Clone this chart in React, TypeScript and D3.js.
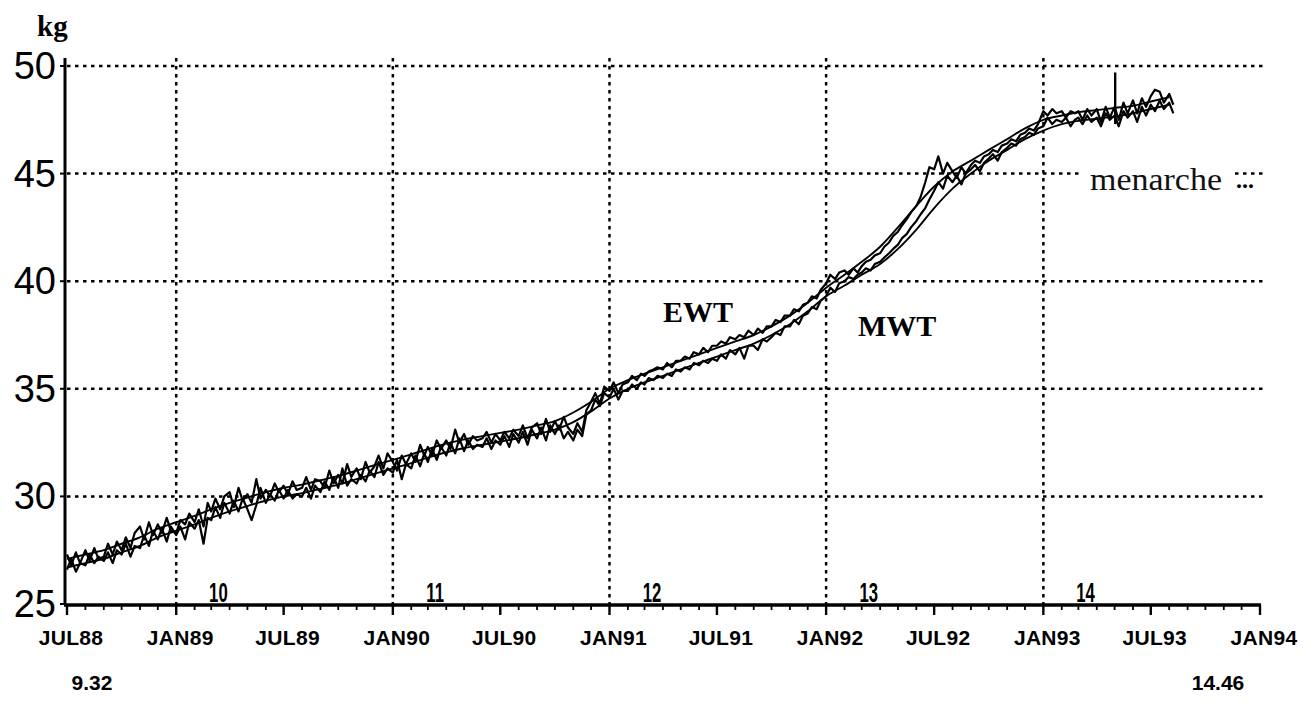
import React from "react";
import * as d3 from "d3";

// ---- data ----
const startAge = 9.32;
const endAgeLabel = "14.46";
const ageMarks = [10, 11, 12, 13, 14];
const yTicks = [25, 30, 35, 40, 45, 50];
const menarcheKg = [47.3, 49.7];
const menarcheDate = Date.UTC(1993, 4, 2);

// fitted curves, one value per month starting JUL88
const ewtFit = [
  27.1, 27.3, 27.5, 27.8, 28.1, 28.5, 28.8, 29.1, 29.4, 29.7, 29.95, 30.2,
  30.4, 30.55, 30.75, 30.95, 31.2, 31.45, 31.7, 31.95, 32.2, 32.45, 32.65, 32.8,
  32.95, 33.1, 33.3, 33.5, 33.9, 34.4, 35.0, 35.4, 35.7, 36.0, 36.3, 36.6,
  36.9, 37.2, 37.5, 37.9, 38.4, 39.0, 39.7, 40.3, 40.9, 41.6, 42.5, 43.5,
  44.4, 45.1, 45.6, 46.1, 46.6, 47.1, 47.5, 47.7, 47.85, 47.95, 48.05, 48.15,
  48.35, 48.55,
];
const mwtFit = [
  26.7, 26.9, 27.1, 27.4, 27.7, 28.1, 28.4, 28.7, 29.0, 29.3, 29.55, 29.8,
  30.0, 30.15, 30.35, 30.55, 30.8, 31.05, 31.3, 31.55, 31.8, 32.05, 32.25, 32.4,
  32.55, 32.7, 32.9, 33.1, 33.45, 33.95, 34.55, 35.0, 35.3, 35.6, 35.9, 36.2,
  36.5, 36.8, 37.1, 37.5, 38.0, 38.6, 39.3, 39.8, 40.3, 40.8, 41.5, 42.4,
  43.4, 44.3, 45.0, 45.6, 46.1, 46.6, 47.0, 47.3, 47.45, 47.55, 47.65, 47.8,
  48.0, 48.2,
];

// weekly readings: 4 per month (days 1, 8, 16, 23), starting JUL88
const weekDays = [1, 8, 16, 23];
const ewtRaw = [
  27.3, 26.8, 27.4, 26.9, 27.5, 27.0, 27.6, 27.1, 27.2, 27.8, 27.3, 27.9,
  27.5, 28.1, 27.6, 28.3, 28.6, 28.0, 28.8, 28.2, 28.7, 28.3, 29.0, 28.4,
  28.3, 28.9, 28.7, 29.2, 28.8, 29.4, 28.6, 29.7, 29.3, 29.9, 29.4, 30.0,
  30.2, 29.5, 30.4, 29.8, 30.1, 29.7, 30.8, 29.9, 30.3, 30.0, 30.6, 30.2,
  30.5, 30.1, 30.7, 30.3, 30.4, 30.9, 30.3, 30.8, 30.7, 30.4, 31.2, 30.6,
  31.0, 30.6, 31.5, 30.9, 31.3, 30.8, 31.6, 31.1, 31.4, 31.9, 31.3, 32.0,
  31.6, 31.2, 31.9, 31.5, 32.0, 31.6, 32.4, 31.9, 32.3, 31.9, 32.6, 32.2,
  32.6, 32.2, 33.1, 32.5, 32.9, 32.4, 32.8, 32.6, 32.7, 33.0, 32.5, 32.9,
  32.6, 33.0, 32.7, 33.1, 32.8, 33.3, 32.7, 33.2, 33.4, 32.9, 33.6, 33.0,
  33.5, 33.1, 33.7, 33.2, 32.9, 33.4, 33.0, 34.0, 34.4, 34.8, 34.3, 35.1,
  34.9, 35.3, 34.8, 35.2, 35.3, 35.6, 35.4, 35.7, 35.6, 35.8, 35.9, 36.0,
  35.9, 36.2, 36.0, 36.3, 36.3, 36.5, 36.4, 36.7, 36.6, 36.9, 36.7, 37.0,
  37.0, 37.2, 37.1, 37.4, 37.3, 37.5, 37.4, 37.7, 37.5, 37.8, 37.6, 37.9,
  37.9, 38.2, 38.1, 38.4, 38.4, 38.7, 38.6, 38.9, 39.0, 39.3, 39.2, 39.6,
  39.9, 40.3, 40.1, 40.4, 40.5, 40.3, 40.6, 40.4, 40.7, 40.9, 41.0, 41.2,
  41.3, 41.6, 41.8, 42.1, 42.3, 42.6, 42.9, 43.2, 43.5, 43.9, 44.6, 45.3,
  45.2, 45.8, 45.0, 45.5, 45.1, 44.8, 45.3, 45.0, 45.4, 45.6, 45.5, 45.8,
  45.9, 46.1, 46.0, 46.3, 46.4, 46.6, 46.5, 46.8, 46.9, 47.1, 47.0, 47.3,
  47.9, 47.7, 48.0, 47.8, 47.9, 47.6, 47.9, 47.8, 47.9, 47.5, 48.0, 47.7,
  48.0, 47.4, 48.1, 47.6, 48.1, 47.5, 48.3, 47.8, 48.4, 47.8, 48.5, 48.1,
  48.6, 48.9, 48.8, 48.3, 48.7, 48.2,
];
const mwtRaw = [
  26.6, 27.1, 26.5, 26.9, 26.8, 27.3, 26.9, 27.2, 27.0, 27.4, 26.9, 27.5,
  27.3, 27.8, 27.2, 27.7, 27.6, 28.2, 27.7, 28.4, 28.0, 28.5, 27.9, 28.6,
  28.2, 28.6, 28.0, 28.8, 28.5, 28.9, 27.8, 29.0, 28.9, 29.5, 29.0, 29.7,
  29.2, 29.8, 29.3, 29.9, 29.4, 28.9, 29.6, 30.4, 29.7, 30.1, 29.8, 30.3,
  29.9, 30.3, 29.9, 30.1, 30.0, 30.4, 29.9, 30.5, 30.2, 30.7, 30.3, 30.9,
  30.4, 31.3, 30.5, 30.8, 30.6, 31.0, 30.7, 31.2, 30.9, 31.6, 31.0, 31.3,
  31.1, 31.7, 30.8, 31.5, 31.3, 31.9, 31.4, 32.0, 31.6, 32.2, 31.7, 32.3,
  31.9, 32.5, 32.0, 32.7, 32.1, 32.6, 32.2, 32.4, 32.3, 32.7, 32.2, 32.6,
  32.4, 32.8, 32.3, 32.9, 32.5, 33.0, 32.4, 33.1, 32.7, 33.2, 32.6, 33.3,
  32.9, 33.3, 32.7, 33.0, 32.6, 33.1, 32.8, 33.8, 34.0, 34.5, 34.2, 34.8,
  34.6, 35.0, 34.5, 34.9, 34.9, 35.2, 35.0, 35.3, 35.2, 35.5, 35.4, 35.6,
  35.5, 35.7, 35.6, 35.9, 35.8, 36.0, 35.9, 36.2, 36.1, 36.3, 36.2, 36.4,
  36.3, 36.6, 36.4, 36.8, 36.6, 36.9, 36.4, 37.0, 37.0, 36.8, 37.3, 37.2,
  37.4, 37.6, 37.5, 37.9, 37.9, 38.2, 38.0, 38.4, 38.5, 38.8, 38.7, 39.1,
  39.3, 39.7, 39.5, 39.9, 40.0, 40.2, 40.1, 40.3, 40.4, 40.6, 40.5, 40.8,
  40.9, 41.1, 41.3, 41.5, 41.7, 42.0, 42.2, 42.5, 42.8, 43.1, 43.4, 43.8,
  44.2, 44.6, 44.3, 44.9, 44.6, 44.9, 44.5, 45.0, 45.2, 45.4, 45.1, 45.5,
  45.7, 45.9, 45.6, 46.0, 46.2, 46.4, 46.3, 46.6, 46.7, 46.9, 46.8, 47.1,
  47.2, 47.6, 47.3, 47.5, 47.4, 47.6, 47.2, 47.5, 47.6, 47.3, 47.7, 47.4,
  47.6, 47.2, 47.8, 47.5, 47.7, 47.2, 47.9, 47.6, 47.9, 47.4, 48.1, 47.7,
  48.2, 47.9, 48.4, 48.0, 48.3, 47.8,
];

const W = 1312;
const H = 707;
const x = d3.scaleUtc().domain([Date.UTC(1988, 6, 1), Date.UTC(1994, 0, 1)]).range([67, 1260]);
const y = d3.scaleLinear().domain([25, 50]).range([604, 66]);

const monthDate = (m: number, day = 1) => Date.UTC(1988, 6 + m, day);
const weeklyPoints = (vals: number[]) =>
  vals.map((v, i) => [monthDate(Math.floor(i / 4), weekDays[i % 4]), v] as [number, number]);
const monthlyPoints = (vals: number[]) => vals.map((v, i) => [monthDate(i), v] as [number, number]);

const rawLine = d3.line<[number, number]>().x((d) => x(d[0])).y((d) => y(d[1]));
const fitLine = d3
  .line<[number, number]>()
  .x((d) => x(d[0]))
  .y((d) => y(d[1]))
  .curve(d3.curveMonotoneX);

const sans = "'Liberation Sans', Arial, sans-serif";
const serif = "'Liberation Serif', 'Times New Roman', serif";

export default function App() {
  const months = d3.utcMonth.range(new Date(Date.UTC(1988, 6, 1)), new Date(Date.UTC(1994, 0, 2)));
  const halfYears = months.filter((d) => d.getUTCMonth() % 6 === 0);
  const janLines = months.filter((d) => d.getUTCMonth() === 0 && d.getUTCFullYear() < 1994);
  const fmt = d3.utcFormat("%b%y");
  const yearMs = 365.25 * 24 * 3600 * 1000;
  const ageX = (a: number) => x(Date.UTC(1988, 6, 1) + (a - startAge) * yearMs);
  const grid = { stroke: "#000", strokeWidth: 2.5, strokeDasharray: "3.5,4.5", fill: "none" };
  const menY = y(45) + 16;

  return (
    <svg width={W} height={H} style={{ position: "absolute", left: 0, top: 0, background: "#fff" }}>
      {/* horizontal grid */}
      {yTicks
        .filter((t) => t > 25)
        .map((t) => (
          <line key={"h" + t} x1={67} x2={1264} y1={y(t)} y2={y(t)} {...grid} />
        ))}
      {/* vertical grid */}
      {janLines.map((d) => (
        <line key={"v" + +d} x1={x(d)} x2={x(d)} y1={58} y2={604} {...grid} />
      ))}

      {/* menarche label over the 45 gridline */}
      <rect x={1080} y={y(45) - 6} width={154} height={30} fill="#fff" />
      <text x={1090} y={menY} fontFamily={serif} fontSize={31} fill="#111" textLength={132} lengthAdjust="spacingAndGlyphs">
        menarche
      </text>
      <text x={1236} y={menY - 2} fontFamily={serif} fontWeight="bold" fontSize={24} fill="#000">
        ...
      </text>
      <line x1={x(menarcheDate)} x2={x(menarcheDate)} y1={y(menarcheKg[0])} y2={y(menarcheKg[1])} stroke="#000" strokeWidth={2.4} />

      {/* data */}
      <path d={rawLine(weeklyPoints(mwtRaw)) || ""} fill="none" stroke="#000" strokeWidth={2.2} strokeLinejoin="round" />
      <path d={rawLine(weeklyPoints(ewtRaw)) || ""} fill="none" stroke="#000" strokeWidth={2.2} strokeLinejoin="round" />
      <path d={fitLine(monthlyPoints(ewtFit)) || ""} fill="none" stroke="#000" strokeWidth={1.9} />
      <path d={fitLine(monthlyPoints(mwtFit)) || ""} fill="none" stroke="#000" strokeWidth={1.9} />

      {/* axes */}
      <line x1={65} x2={65} y1={58} y2={605} stroke="#000" strokeWidth={3} />
      <line x1={64} x2={1261} y1={605} y2={605} stroke="#000" strokeWidth={3.4} />
      {yTicks.map((t) => (
        <g key={"yt" + t}>
          <line x1={60} x2={65} y1={y(t)} y2={y(t)} stroke="#000" strokeWidth={2} />
          <text x={56} y={y(t) + 13} textAnchor="end" fontFamily={sans} fontSize={38} fill="#000">
            {t}
          </text>
        </g>
      ))}
      {months.map((d) => {
        const major = d.getUTCMonth() % 6 === 0;
        return (
          <line key={"xt" + +d} x1={x(d)} x2={x(d)} y1={605} y2={605 + (major ? 10 : 5)} stroke="#000" strokeWidth={major ? 2.4 : 1.8} />
        );
      })}
      {halfYears.map((d) => (
        <text key={"xl" + +d} x={x(d) + 4} y={645} textAnchor="middle" fontFamily={sans} fontWeight="bold" fontSize={21} fill="#000" letterSpacing={0.3}>
          {fmt(d).toUpperCase()}
        </text>
      ))}

      {/* age markers (condensed) */}
      {ageMarks.map((a) => (
        <text
          key={"age" + a}
          transform={`translate(${ageX(a) + 4},602) scale(0.62,1)`}
          textAnchor="middle"
          fontFamily={sans}
          fontWeight="bold"
          fontSize={27}
          fill="#000"
        >
          {a}
        </text>
      ))}
      <text x={92} y={690} textAnchor="middle" fontFamily={sans} fontWeight="bold" fontSize={21} fill="#000">
        {String(startAge)}
      </text>
      <text x={1218} y={690} textAnchor="middle" fontFamily={sans} fontWeight="bold" fontSize={21} fill="#000">
        {endAgeLabel}
      </text>

      {/* labels */}
      <text x={37} y={36} fontFamily={serif} fontWeight="bold" fontSize={29} fill="#000">
        kg
      </text>
      <text x={663} y={322} fontFamily={serif} fontWeight="bold" fontSize={30} fill="#000">
        EWT
      </text>
      <text x={858} y={336} fontFamily={serif} fontWeight="bold" fontSize={30} fill="#000">
        MWT
      </text>
    </svg>
  );
}
